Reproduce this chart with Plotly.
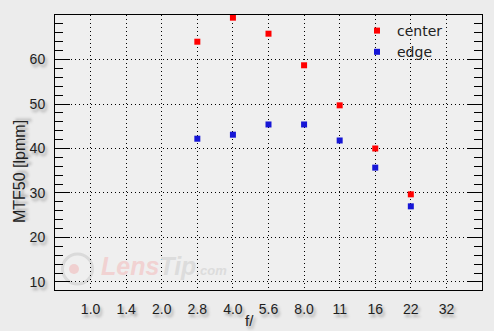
import plotly.graph_objects as go

# ---- data ----
f_labels = ["1.0", "1.4", "2.0", "2.8", "4.0", "5.6", "8.0", "11", "16", "22", "32"]
apertures = ["2.8", "4.0", "5.6", "8.0", "11", "16", "22"]
center = [64.0, 69.4, 65.8, 58.7, 49.7, 40.0, 29.7]
edge = [42.2, 43.1, 45.4, 45.4, 41.8, 35.7, 27.0]
y_ticks = [10, 20, 30, 40, 50, 60]

W, H = 494, 331
L, R, T, B = 55, 12, 15, 41
PW, PH = W - L - R, H - T - B


def px(x):
    return (x - L) / PW


def py(y):
    return (H - B - y) / PH


shadow = "2px 3px 3px #9c9c9c"
tick_font = dict(family="Liberation Sans Narrow, Liberation Sans, Arial", size=14,
                 color="#1e1e1e", shadow=shadow)

fig = go.Figure()
fig.add_trace(go.Scatter(x=apertures, y=center, mode="markers", name="center",
                         marker=dict(symbol="square", size=6, color="#ff0000"),
                         cliponaxis=False))
fig.add_trace(go.Scatter(x=apertures, y=edge, mode="markers", name="edge",
                         marker=dict(symbol="square", size=6, color="#1616d6"),
                         cliponaxis=False))

fig.update_layout(
    width=W, height=H, autosize=False,
    margin=dict(l=L, r=R, t=T, b=B, pad=0),
    paper_bgcolor="#ececec", plot_bgcolor="#efefef",
    showlegend=True,
    legend=dict(x=px(357), y=1.0, xanchor="left", yanchor="top",
                bgcolor="rgba(0,0,0,0)", borderwidth=0,
                font=dict(family="DejaVu Sans", size=14, color="#222222"),
                itemwidth=30, tracegroupgap=0),
    xaxis=dict(
        type="category", categoryorder="array", categoryarray=f_labels,
        tickvals=f_labels, ticktext=f_labels,
        range=[-1, 11], showline=True, linecolor="black", linewidth=1,
        mirror=True, ticks="", showgrid=True, gridcolor="black", gridwidth=1,
        griddash="1px,3px", tickfont=tick_font, ticklabelstandoff=6,
        zeroline=False,
    ),
    yaxis=dict(
        range=[8.2, 70], tickvals=y_ticks, ticktext=[str(v) for v in y_ticks],
        showline=True, linecolor="black", linewidth=1, mirror="ticks",
        ticks="inside", ticklen=15, tickwidth=1, tickcolor="black",
        minor=dict(ticks="inside", ticklen=8, tickwidth=1, tickcolor="black",
                   dtick=2, tick0=0, showgrid=False),
        showgrid=True, gridcolor="black", gridwidth=1, griddash="1px,3px",
        tickfont=tick_font, ticklabelstandoff=6, zeroline=False,
    ),
)

title_font = dict(family="Liberation Sans, Arial", size=16, color="#222222", shadow=shadow)
fig.add_annotation(text="MTF50 [lpmm]", textangle=-90, xref="paper", yref="paper",
                   x=px(19.5), y=py(171.5), xanchor="center", yanchor="middle",
                   showarrow=False, font=title_font)
fig.add_annotation(text="f/", xref="paper", yref="paper",
                   x=px(249.5), y=py(320.5), xanchor="center", yanchor="middle",
                   showarrow=False, font=dict(family="Liberation Sans, Arial", size=15,
                                              color="#222222", shadow=shadow))

# watermark
fig.add_shape(type="circle", xref="paper", yref="paper",
              x0=px(62.5), x1=px(92.5), y0=py(284), y1=py(254),
              line=dict(color="#dadada", width=3), layer="below")
fig.add_shape(type="circle", xref="paper", yref="paper",
              x0=px(69), x1=px(79), y0=py(274), y1=py(264),
              line=dict(width=0), fillcolor="#f0d0d0", layer="below")
fig.add_annotation(
    text="<b><i><span style='color:#f1d2d2'>Lens</span><span style='color:#dcdcdc'>Tip</span>"
         "<span style='font-size:13px;color:#dcdcdc'>.com</span></i></b>",
    xref="paper", yref="paper", x=px(99), y=py(266), xanchor="left", yanchor="middle",
    showarrow=False, font=dict(family="Liberation Sans, Arial", size=25))

fig.write_html("out.html")
